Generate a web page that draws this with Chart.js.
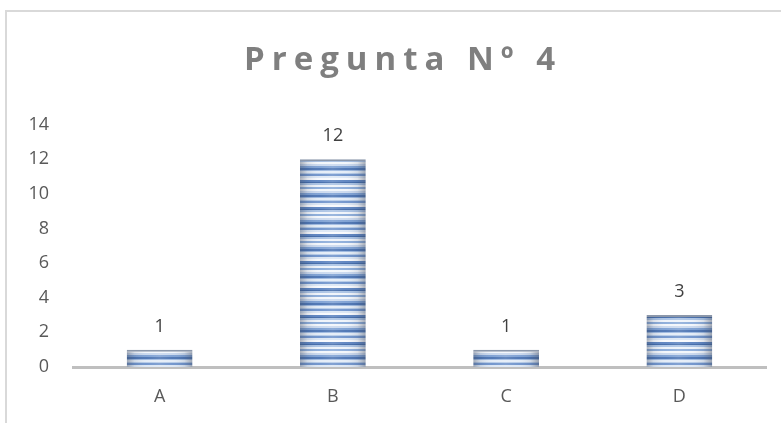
<!DOCTYPE html>
<html>
<head>
<meta charset="utf-8">
<script src="https://cdn.jsdelivr.net/npm/chart.js@4.4.1/dist/chart.umd.min.js"></script>
<style>
  html, body { margin: 0; padding: 0; background: #fff; overflow: hidden; }
  #frame { position: absolute; left: 5px; top: 10px; width: 820px; height: 500px; border: 2px solid #d9d9d9; box-sizing: border-box; }
  #wrap { position: absolute; left: 0; top: 0; width: 781px; height: 423px; }
</style>
</head>
<body>
<div id="frame"></div>
<div id="wrap"><canvas id="c" width="781" height="423"></canvas></div>
<script>
const chartTitle = 'Pregunta Nº 4';
const categories = ['A', 'B', 'C', 'D'];
const values = [1, 12, 1, 3];
const yTicks = [0, 2, 4, 6, 8, 10, 12, 14];

const FONT = "'Open Sans', 'Liberation Sans', Arial, sans-serif";

function makePattern(catWidth, barWidth) {
  const pc = document.createElement('canvas');
  const stripes = [
    ['#f2f6fb', 2], ['#c9d8ee', 2], ['#7b9fd3', 2], ['#4a73b3', 2], ['#9bb7df', 1],
    ['#e3ecf7', 2], ['#b3c9e7', 1], ['#6d92cb', 2], ['#dbe6f4', 2], ['#f7f9fd', 2],
    ['#5a82c0', 2], ['#3f68a8', 1], ['#a9c2e4', 2], ['#eef3fa', 2], ['#8aabd9', 2]
  ];
  const h = stripes.reduce((s, t) => s + t[1], 0);
  const w = Math.round(catWidth);
  pc.width = w; pc.height = h;
  const g = pc.getContext('2d');
  let y = 0;
  for (const [col, hh] of stripes) { g.fillStyle = col; g.fillRect(0, y, w, hh); y += hh; }
  const l = w / 2 - barWidth / 2, r = w / 2 + barWidth / 2;
  const grad = g.createLinearGradient(l, 0, r, 0);
  grad.addColorStop(0, 'rgba(70,80,100,0.45)');
  grad.addColorStop(0.12, 'rgba(70,80,100,0.12)');
  grad.addColorStop(0.3, 'rgba(255,255,255,0.05)');
  grad.addColorStop(0.5, 'rgba(255,255,255,0.15)');
  grad.addColorStop(0.7, 'rgba(255,255,255,0.05)');
  grad.addColorStop(0.88, 'rgba(70,80,100,0.12)');
  grad.addColorStop(1, 'rgba(70,80,100,0.45)');
  g.fillStyle = grad;
  g.fillRect(0, 0, w, h);
  return pc;
}

let patternCache = null;
function barFill(ctx) {
  const chart = ctx.chart;
  const area = chart.chartArea;
  if (!area) return '#5b82c0';
  const catW = (area.right - area.left) / categories.length;
  const barW = catW * 0.38;
  const key = Math.round(catW) + '_' + Math.round(area.left);
  if (!patternCache || patternCache.key !== key) {
    const pc = makePattern(catW, barW);
    const p = chart.ctx.createPattern(pc, 'repeat');
    p.setTransform(new DOMMatrix().translate(area.left, 0));
    patternCache = { key, p };
  }
  return patternCache.p;
}

const dataLabels = {
  id: 'dataLabels',
  afterDatasetsDraw(chart) {
    const ctx = chart.ctx;
    const meta = chart.getDatasetMeta(0);
    ctx.save();
    ctx.font = '18px ' + FONT;
    ctx.fillStyle = '#404040';
    ctx.textAlign = 'center';
    ctx.textBaseline = 'alphabetic';
    meta.data.forEach((el, i) => {
      ctx.fillText(String(values[i]), el.x, el.y - 18);
    });
    ctx.restore();
  }
};

const chart = new Chart(document.getElementById('c'), {
  type: 'bar',
  data: {
    labels: categories,
    datasets: [{
      data: values,
      backgroundColor: barFill,
      borderColor: '#8b97aa',
      borderWidth: { top: 2, left: 0, right: 0, bottom: 0 },
      borderSkipped: 'bottom',
      categoryPercentage: 1,
      barPercentage: 0.38
    }]
  },
  options: {
    responsive: false,
    animation: false,
    devicePixelRatio: 1,
    layout: { padding: { left: 0, right: 15, top: 0, bottom: 0 } },
    plugins: {
      legend: { display: false },
      tooltip: { enabled: false },
      title: {
        display: true,
        text: chartTitle,
        color: '#7f7f7f',
        font: { family: FONT, size: 33, weight: 'bold', lineHeight: 1.2 },
        padding: { top: 41, bottom: 44 }
      }
    },
    scales: {
      x: {
        grid: { display: false, drawTicks: false },
        border: { display: true, color: '#bfbfbf', width: 3 },
        ticks: { color: '#595959', font: { family: FONT, size: 18 }, padding: 19 },
        afterFit(s) { s.height = 56; }
      },
      y: {
        min: 0, max: 14,
        afterBuildTicks(s) { s.ticks = yTicks.map(v => ({ value: v })); },
        grid: { display: false, drawTicks: false },
        border: { display: false },
        ticks: { color: '#595959', font: { family: FONT, size: 18 }, padding: 24 },
        afterFit(s) { s.width = 73; }
      }
    }
  },
  plugins: [dataLabels]
});

// letter-spaced title, drawn by the library's title block
const tb = chart.titleBlock;
if (tb) {
  const orig = tb.draw.bind(tb);
  tb.draw = function () {
    const c = this.ctx;
    c.save();
    c.letterSpacing = '7px';
    c.translate(20, 0);
    orig();
    c.restore();
  };
  chart.draw();
}
</script>
</body>
</html>
